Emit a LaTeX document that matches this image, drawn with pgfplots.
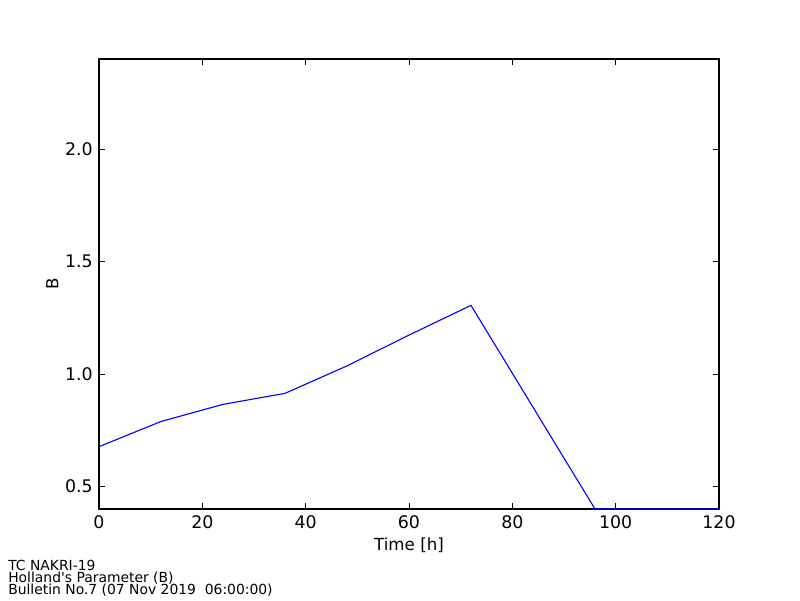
\documentclass[border=0pt]{standalone}
\usepackage{fontspec}
\setmainfont{DejaVu Sans}
\newfontfamily\plainfont{DejaVu Sans}
\usepackage{pgfplots}
\pgfplotsset{compat=1.18}

\begin{document}
\begin{tikzpicture}[x=1pt,y=1pt]
\useasboundingbox (0,0) rectangle (576,432);
\begin{axis}[
    at={(71.28pt,65.52pt)}, anchor=south west,
    scale only axis, width=446.4pt, height=324pt,
    xmin=0, xmax=120, ymin=0.4, ymax=2.4,
    xtick={0,20,...,120},
    ytick={0.5,1.0,1.5,2.0},
    yticklabel style={/pgf/number format/fixed, /pgf/number format/fixed zerofill, /pgf/number format/precision=1, xshift=-1pt},
    /pgf/number format/assume math mode=true,
    tick align=inside, xtick pos=both, ytick pos=both,
    major tick length=4pt, minor tick num=0,
    tick style={black, line width=0.7pt},
    axis line style={line width=0.8pt},
    ticklabel style={font=\fontsize{12.5}{14}\selectfont},
    xticklabel style={yshift=-1pt},
    label style={font=\fontsize{12}{14}\selectfont},
    xlabel={Time [h]},
    ylabel={B},
    xlabel style={yshift=0pt},
    ylabel style={yshift=-2pt},
]
\addplot[color=blue, line width=0.8pt, mark=none] coordinates {
    (0,0.677) (12,0.789) (24,0.865) (36,0.914) (48,1.036) (60,1.173) (72,1.305) (96,0.40) (120,0.40)
};
\end{axis}
\begin{scope}[every node/.style={anchor=base west, inner sep=0pt, font=\plainfont\fontsize{10}{12}\selectfont}]
\node at (5.76,21.6) {TC NAKRI-19};
\node at (5.76,12.96) {Holland's Parameter (B)};
\node at (5.76,4.32) {Bulletin No.7 (07 Nov 2019\ \ 06:00:00)};
\end{scope}
\end{tikzpicture}
\end{document}
